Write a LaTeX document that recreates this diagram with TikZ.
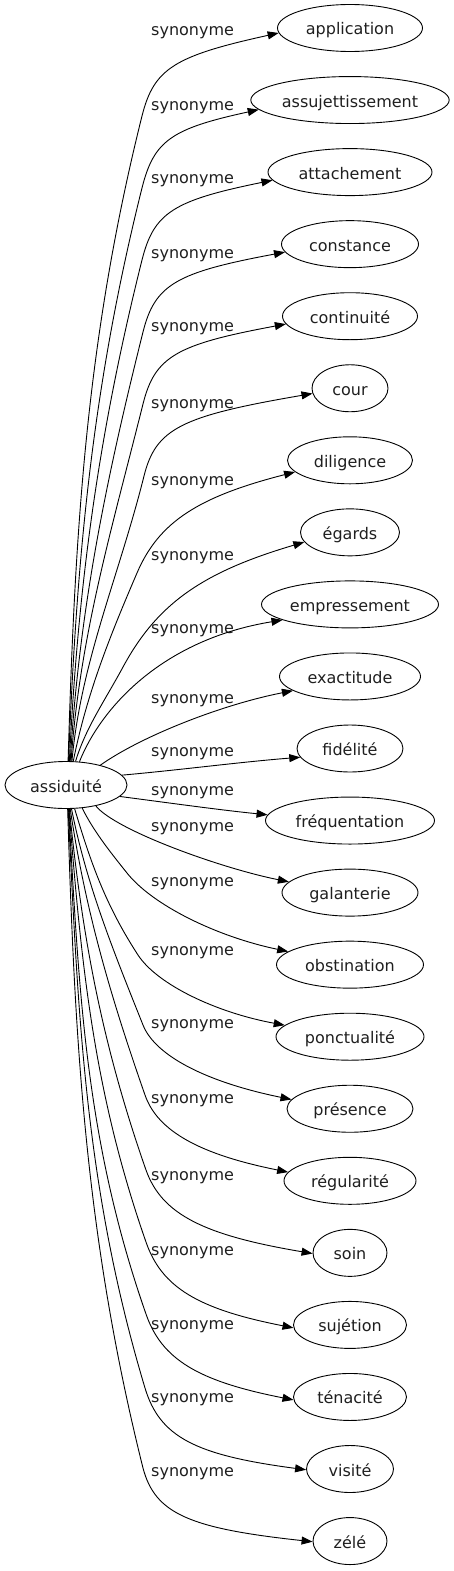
\documentclass[tikz,border=0pt]{standalone}
\usepackage{fontspec}
\setmainfont{DejaVu Sans}
\usetikzlibrary{arrows.meta,calc,shapes.geometric}
\begin{document}
\begin{tikzpicture}[x=1pt,y=-1pt,
  syn/.style={ellipse,draw,line width=0.9pt,minimum height=47pt,inner xsep=2pt,inner ysep=2pt,
    text height=15pt,text depth=1pt,text=black!88,font=\fontsize{16}{19}\selectfont},
  lab/.style={anchor=base west,inner sep=0pt,text=black!88,font=\fontsize{16}{19}\selectfont},
  edge/.style={draw,line width=0.9pt,-{Triangle[length=11pt,width=8pt]}}]
\useasboundingbox (0,0) rectangle (453,1571);
\node[syn,minimum width=122pt] (r) at (66,785) {assiduité};
\foreach \i/\w/\t in {1/145/application,2/194/assujettissement,3/164/attachement,4/137/constance,
  5/135/continuité,6/76/cour,7/125/diligence,8/99/égards,9/177/empressement,10/141/exactitude,
  11/106/fidélité,12/169/fréquentation,13/136/galanterie,14/147/obstination,15/148/ponctualité,
  16/126/présence,17/132/régularité,18/74/soin,19/113/sujétion,20/113/ténacité,21/87/visité,22/74/zélé}
  \node[syn,minimum width=\w pt] (t\i) at (350,{28+72.05*(\i-1)}) {\t};
\foreach \i/\ly in {1/33,2/107,3/180,4/255,5/328,6/405,7/482,8/557,9/630,10/700,11/753,
  12/792,13/828,14/883,15/952,16/1025,17/1100,18/1177,19/1252,20/1326,21/1399,22/1473}
  \node[lab] (l\i) at (151,{\ly+3}) {synonyme};
% upper edges: root -> p (sweep) -> rounded turn at q -> target
\foreach \i/\ra/\a/\px/\py/\s/\qx/\qy/\f/\ea in {
  1/85/0.03/142/116/0.25/156/60/0.85/184,
  2/84/0.04/142/188/0.25/156/132/0.85/186,
  3/82/0.05/142/260/0.25/156/204/0.85/186,
  4/80/0.06/143/332/0.25/157/276/0.85/187,
  5/78/0.07/143/404/0.25/157/348/0.85/187,
  6/76/0.09/144/476/0.25/158/420/0.85/188,
  7/73/0.2/137/573/0.43/166/505/0.75/192,
  8/68/0.3/123/667/0.54/169/582/0.75/192}{
  \coordinate (p\i) at (\px,\py);
  \coordinate (q\i) at (\qx,\qy);
  \draw[edge] (r.\ra) .. controls +({\a*0.35*(762-\py)},{-0.35*(762-\py)}) and +({-\s*0.35*(762-\py)},{0.35*(762-\py)}) .. (p\i)
    .. controls ($(p\i)!\f!(q\i)$) and ($(t\i.\ea)!\f!(q\i)$) .. (t\i.\ea);
}
% lower edges
\foreach \i/\ra/\a/\px/\py/\s/\qx/\qy/\f/\ea in {
  14/305/0.5/127/873/0.8/170/927/0.6/168,
  15/290/0.3/138/955/0.65/170/1004/0.6/170,
  16/283/0.2/143/1025/0.4/162/1073/0.65/171,
  17/280/0.15/145/1095/0.35/163/1147/0.7/172,
  18/278/0.1/146/1170/0.35/167/1229/0.75/181,
  19/277/0.08/146/1242/0.35/167/1303/0.75/183,
  20/276/0.06/146/1314/0.35/167/1375/0.75/183,
  21/275/0.05/145/1388/0.3/164/1451/0.78/181,
  22/274/0.03/143/1468/0.25/158/1525/0.8/181}{
  \coordinate (p\i) at (\px,\py);
  \coordinate (q\i) at (\qx,\qy);
  \draw[edge] (r.\ra) .. controls +({\a*0.35*(\py-808)},{0.35*(\py-808)}) and +({-\s*0.35*(\py-808)},{-0.35*(\py-808)}) .. (p\i)
    .. controls ($(p\i)!\f!(q\i)$) and ($(t\i.\ea)!\f!(q\i)$) .. (t\i.\ea);
}
% near edges
\draw[edge] (r.60) .. controls (100,710) and (160,640) .. (t9.193);
\draw[edge] (r.30) .. controls (140,737) and (220,705) .. (t10.194);
\draw[edge] (r.10) .. controls (180,770) and (240,762) .. (t11.190);
\draw[edge] (r.348) .. controls (170,803) and (220,810) .. (t12.176);
\draw[edge] (r.325) .. controls (115,830) and (220,868) .. (t13.170);
\end{tikzpicture}
\end{document}
